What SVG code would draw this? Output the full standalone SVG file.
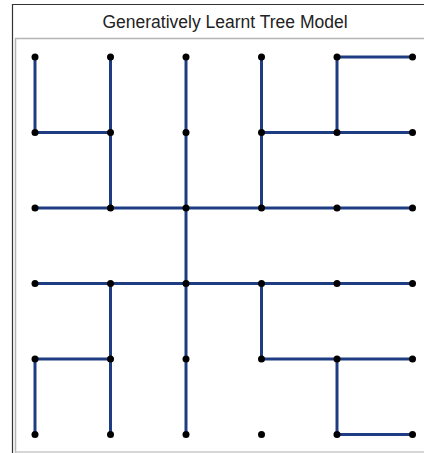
<svg xmlns="http://www.w3.org/2000/svg" width="424" height="453" viewBox="0 0 424 453">
<style>
.edge{stroke:#1e3c82;stroke-width:3;fill:none;stroke-linecap:butt}
.node{fill:#000}
.title{font-family:"Liberation Sans",Arial,sans-serif;font-size:17.5px;fill:#222;text-anchor:middle}
</style>
<rect x="0" y="0" width="424" height="453" fill="#fff"/>
<path d="M12.5 453V4.5H424" stroke="#333" stroke-width="1.2" fill="none"/>
<path d="M15.5 453V38.5H424" stroke="#b4b4b4" stroke-width="1.5" fill="none"/>
<line x1="15" y1="452" x2="424" y2="452" stroke="#c8c8c8" stroke-width="1.5"/>
<text class="title" x="225" y="28">Generatively Learnt Tree Model</text>
<g id="connectors" class="edge">
<path d="M35 57V132.5H110.5"/>
<path d="M110.5 57V208"/>
<path d="M186 57V434.5"/>
<path d="M261.5 57V208"/>
<path d="M261.5 132.5H412.5"/>
<path d="M337 132.5V57H412.5"/>
<path d="M35 208H412.5"/>
<path d="M35 283.5H412.5"/>
<path d="M110.5 283.5V434.5"/>
<path d="M35 434.5V359H110.5"/>
<path d="M261.5 283.5V359H412.5"/>
<path d="M337 359V434.5H412.5"/>
</g>
<g id="nodes" class="node">
<g id="n00"><circle cx="35" cy="57" r="3.5"/></g>
<g id="n01"><circle cx="110.5" cy="57" r="3.5"/></g>
<g id="n02"><circle cx="186" cy="57" r="3.5"/></g>
<g id="n03"><circle cx="261.5" cy="57" r="3.5"/></g>
<g id="n04"><circle cx="337" cy="57" r="3.5"/></g>
<g id="n05"><circle cx="412.5" cy="57" r="3.5"/></g>
<g id="n10"><circle cx="35" cy="132.5" r="3.5"/></g>
<g id="n11"><circle cx="110.5" cy="132.5" r="3.5"/></g>
<g id="n12"><circle cx="186" cy="132.5" r="3.5"/></g>
<g id="n13"><circle cx="261.5" cy="132.5" r="3.5"/></g>
<g id="n14"><circle cx="337" cy="132.5" r="3.5"/></g>
<g id="n15"><circle cx="412.5" cy="132.5" r="3.5"/></g>
<g id="n20"><circle cx="35" cy="208" r="3.5"/></g>
<g id="n21"><circle cx="110.5" cy="208" r="3.5"/></g>
<g id="n22"><circle cx="186" cy="208" r="3.5"/></g>
<g id="n23"><circle cx="261.5" cy="208" r="3.5"/></g>
<g id="n24"><circle cx="337" cy="208" r="3.5"/></g>
<g id="n25"><circle cx="412.5" cy="208" r="3.5"/></g>
<g id="n30"><circle cx="35" cy="283.5" r="3.5"/></g>
<g id="n31"><circle cx="110.5" cy="283.5" r="3.5"/></g>
<g id="n32"><circle cx="186" cy="283.5" r="3.5"/></g>
<g id="n33"><circle cx="261.5" cy="283.5" r="3.5"/></g>
<g id="n34"><circle cx="337" cy="283.5" r="3.5"/></g>
<g id="n35"><circle cx="412.5" cy="283.5" r="3.5"/></g>
<g id="n40"><circle cx="35" cy="359" r="3.5"/></g>
<g id="n41"><circle cx="110.5" cy="359" r="3.5"/></g>
<g id="n42"><circle cx="186" cy="359" r="3.5"/></g>
<g id="n43"><circle cx="261.5" cy="359" r="3.5"/></g>
<g id="n44"><circle cx="337" cy="359" r="3.5"/></g>
<g id="n45"><circle cx="412.5" cy="359" r="3.5"/></g>
<g id="n50"><circle cx="35" cy="434.5" r="3.5"/></g>
<g id="n51"><circle cx="110.5" cy="434.5" r="3.5"/></g>
<g id="n52"><circle cx="186" cy="434.5" r="3.5"/></g>
<g id="n53"><circle cx="261.5" cy="434.5" r="3.5"/></g>
<g id="n54"><circle cx="337" cy="434.5" r="3.5"/></g>
<g id="n55"><circle cx="412.5" cy="434.5" r="3.5"/></g>
</g>
</svg>
